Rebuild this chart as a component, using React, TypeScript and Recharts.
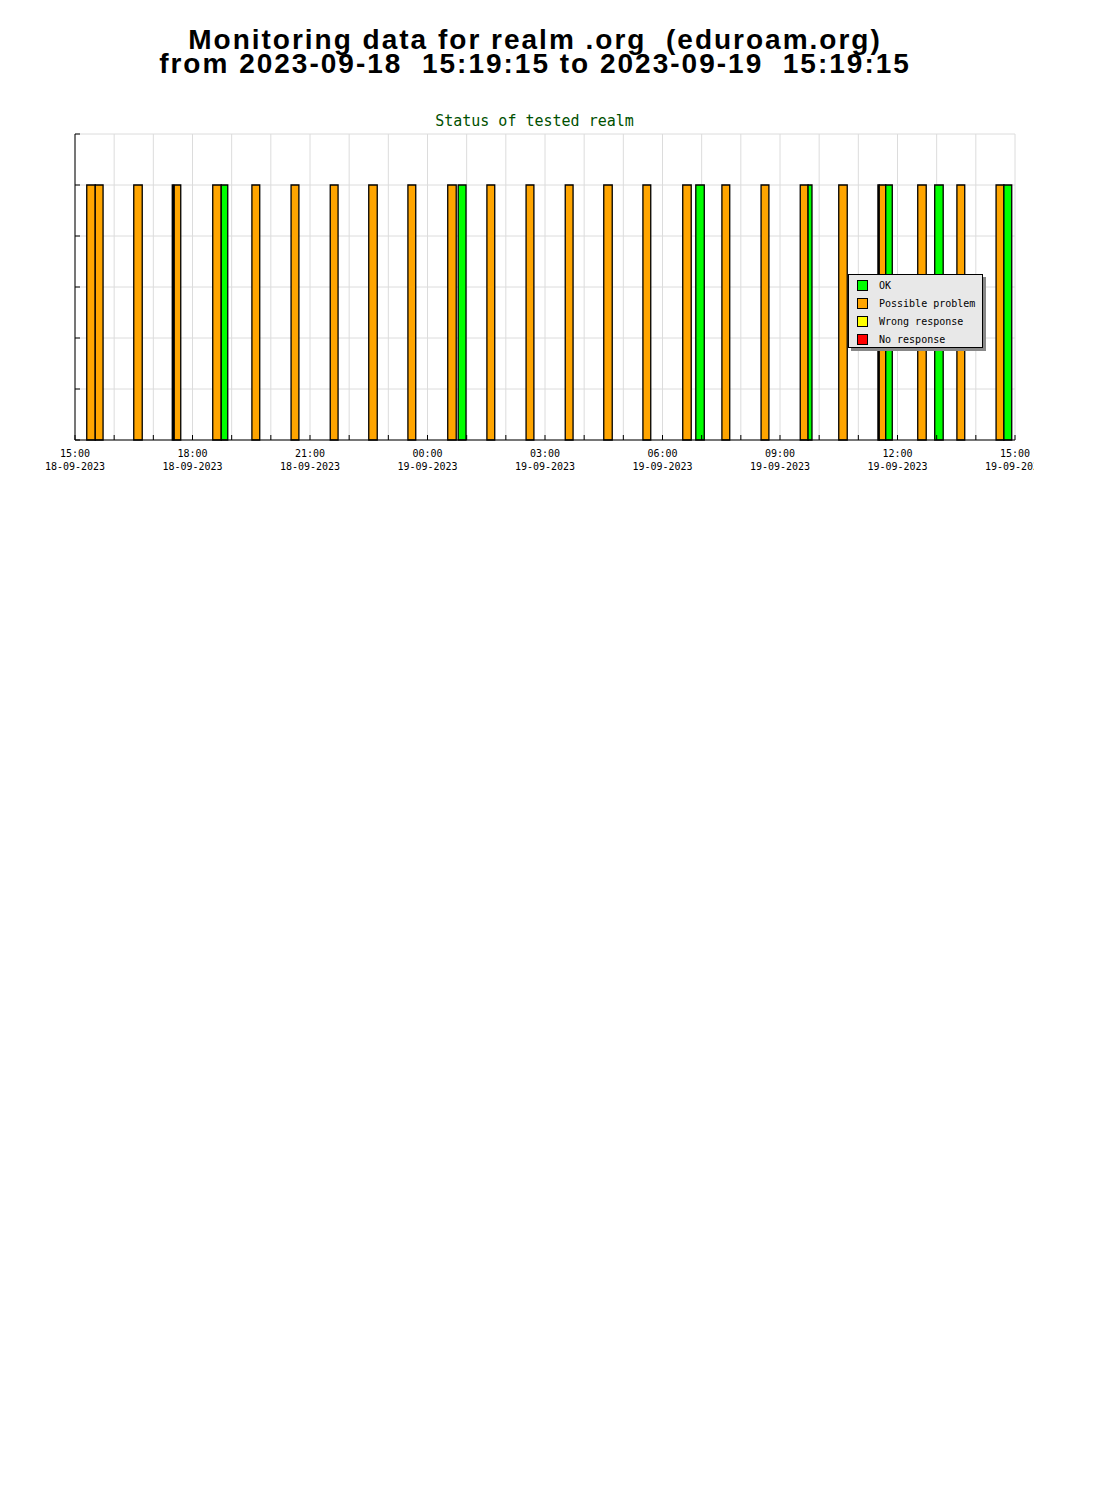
import React from 'react';
import {
  ComposedChart, Line, XAxis, YAxis, CartesianGrid, ReferenceArea
} from 'recharts';

// minutes after 2023-09-18 15:00 at which each check bar starts / ends
const startMinutes = [18, 31, 90, 149, 152, 211, 224, 271, 331, 391, 450, 510, 571, 587, 631, 691, 751, 810, 870, 931, 951, 991, 1051, 1111, 1123, 1170, 1230, 1232, 1242, 1291, 1317, 1351, 1411, 1423];
const endMinutes = [31, 43, 103, 151, 162, 224, 234, 283, 343, 403, 463, 522, 584, 599, 643, 703, 763, 823, 882, 944, 964, 1003, 1063, 1123, 1129, 1183, 1232, 1242, 1252, 1304, 1330, 1363, 1423, 1435];
const statuses = ['P', 'P', 'P', 'P', 'P', 'P', 'OK', 'P', 'P', 'P', 'P', 'P', 'P', 'OK', 'P', 'P', 'P', 'P', 'P', 'P', 'OK', 'P', 'P', 'P', 'OK', 'P', 'P', 'P', 'OK', 'P', 'OK', 'P', 'P', 'OK'];

const hourTicks = Array.from({ length: 25 }, (_, i) => i);
const timeLabels = ['15:00', '18:00', '21:00', '00:00', '03:00', '06:00', '09:00', '12:00', '15:00'];
const dateLabels = ['18-09-2023', '18-09-2023', '18-09-2023', '19-09-2023', '19-09-2023', '19-09-2023', '19-09-2023', '19-09-2023', '19-09-2023'];
const yMajorTicks = [0, 0.2, 0.4, 0.6, 0.8, 1, 1.2];
const yMinorTicks = [0.1, 0.3, 0.5, 0.7, 0.9, 1.1];

const legendItems = [
  { name: 'OK', color: '#00ff00' },
  { name: 'Possible problem', color: '#ffa500' },
  { name: 'Wrong response', color: '#ffff00' },
  { name: 'No response', color: '#ff0000' },
];

const STATUS_COLORS: Record<string, string> = { OK: '#00ff00', P: '#ffa500', W: '#ffff00', N: '#ff0000' };

const MONO = '"DejaVu Sans Mono", monospace';

const data = startMinutes.map((s) => ({ t: s / 60, v: 1 }));

const XTick = (props: any) => {
  const { x, y, payload } = props;
  const h = payload.value;
  const idx = h % 3 === 0 ? h / 3 : -1;
  return (
    <g>
      <line x1={x} y1={y} x2={x} y2={y - 5} stroke="#000" />
      {idx >= 0 && (
        <text fontFamily={MONO} fontSize={10} textAnchor="middle" fill="#000">
          <tspan x={x} y={y + 17}>{timeLabels[idx]}</tspan>
          <tspan x={x} y={y + 30}>{dateLabels[idx]}</tspan>
        </text>
      )}
    </g>
  );
};

const YTick = (len: number, shift: number) => (props: any) => {
  const { x, y } = props;
  return <line x1={x + shift} y1={y} x2={x + shift + len} y2={y} stroke="#000" />;
};

const LegendBox = () => (
  <div style={{
    position: 'absolute', left: 848, top: 274,
    width: 135, height: 74, boxSizing: 'border-box', background: '#e8e8e8',
    border: '1px solid #000', boxShadow: '3px 3px 0 #888', padding: '1px 0 0 8px',
    fontFamily: MONO, fontSize: 10, color: '#000'
  }}>
    {legendItems.map(item => (
      <div key={item.name} style={{ display: 'flex', alignItems: 'center', height: 18 }}>
        <div style={{ width: 9, height: 9, background: item.color, border: '1px solid #000', marginRight: 11 }} />
        <span>{item.name}</span>
      </div>
    ))}
  </div>
);

export default function App() {
  return (
    <div style={{ position: 'absolute', left: 0, top: 0, width: 1100, height: 1500, background: '#fff' }}>
      <div style={{
        position: 'absolute', left: 0, top: 28, width: 1070, textAlign: 'center', whiteSpace: 'pre',
        fontFamily: '"Liberation Sans", Arial, sans-serif', fontWeight: 'bold', fontSize: 28, lineHeight: '24px',
        letterSpacing: 2, color: '#000'
      }}>
        {'Monitoring data for realm .org  (eduroam.org)\nfrom 2023-09-18  15:19:15 to 2023-09-19  15:19:15'}
      </div>
      <div style={{
        position: 'absolute', left: 0, top: 112, width: 1069, textAlign: 'center',
        fontFamily: MONO, fontSize: 15, lineHeight: '18px', color: '#005000'
      }}>
        Status of tested realm
      </div>
      <div style={{ position: 'absolute', left: 0, top: 0 }}>
        <ComposedChart width={1034} height={500} data={data} margin={{ top: 134, right: 19, bottom: 59, left: 73 }}>
          <CartesianGrid stroke="#dcdcdc" strokeWidth={1} />
          <XAxis
            dataKey="t" type="number" domain={[0, 24]} ticks={hourTicks} interval={0} height={1}
            stroke="#000" tickLine={false} tickSize={0} tickMargin={0} tick={<XTick />}
            allowDataOverflow
          />
          <YAxis
            yAxisId="minor" type="number" domain={[0, 1.2]} ticks={yMinorTicks} width={1} interval={0}
            axisLine={false} tickLine={false} tickSize={0} tickMargin={0} tick={YTick(3, 1)}
          />
          <YAxis
            type="number" domain={[0, 1.2]} ticks={yMajorTicks} width={1} interval={0}
            stroke="#000" tickLine={false} tickSize={0} tickMargin={0} tick={YTick(5, 0)}
          />
          <Line dataKey="v" stroke="none" dot={false} activeDot={false} isAnimationActive={false} />
          {startMinutes.map((s, i) => (
            <ReferenceArea
              key={i}
              x1={s / 60}
              x2={endMinutes[i] / 60}
              y1={0}
              y2={1}
              fill={STATUS_COLORS[statuses[i]]}
              fillOpacity={1}
              stroke="#000"
              strokeWidth={1.3}
              ifOverflow="visible"
            />
          ))}
        </ComposedChart>
      </div>
      <LegendBox />
    </div>
  );
}
